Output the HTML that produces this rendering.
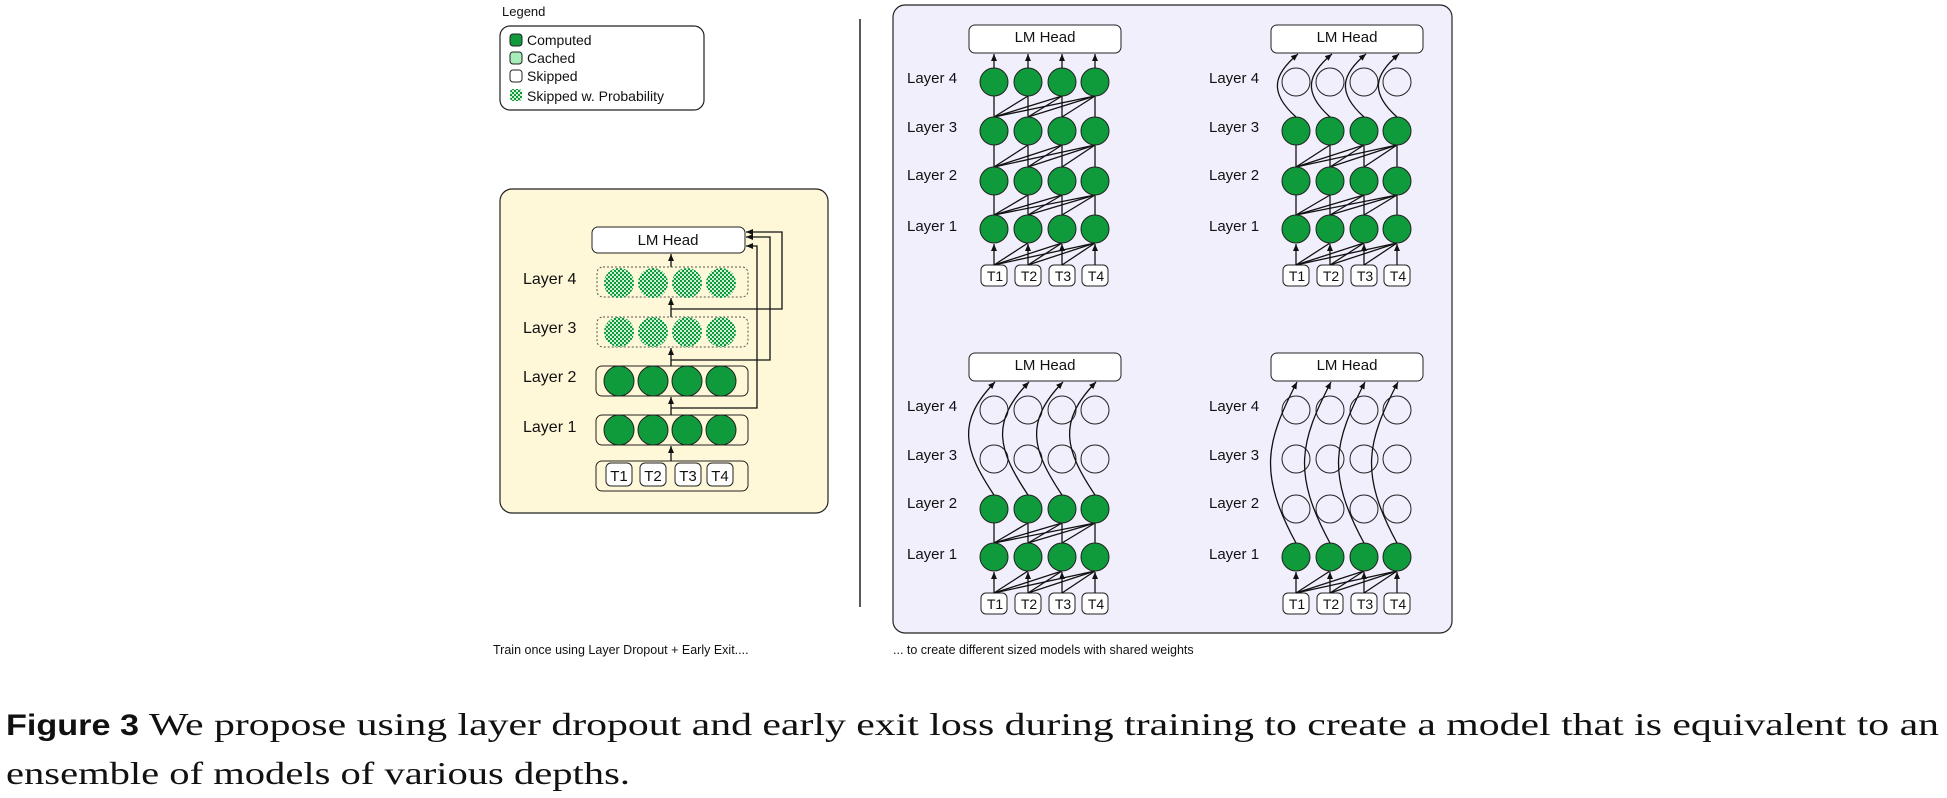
<!DOCTYPE html>
<html><head><meta charset="utf-8">
<style>
html,body{margin:0;padding:0;background:#fff;}
svg{display:block;}
text{font-family:"Liberation Sans",Arial,sans-serif;fill:#111;}
</style></head>
<body>
<svg id="s" width="1947" height="798" viewBox="0 0 1947 798" xmlns="http://www.w3.org/2000/svg">
<defs>
<pattern id="hatch" width="4" height="4" patternUnits="userSpaceOnUse">
<rect width="4" height="4" fill="#cfeed6"/>
<rect width="2" height="2" fill="#0f9a3b"/>
<rect x="2" y="2" width="2" height="2" fill="#0f9a3b"/>
</pattern>
<marker id="ah" markerWidth="8" markerHeight="8" refX="7" refY="4" orient="auto" markerUnits="userSpaceOnUse">
<path d="M0,1 L7,4 L0,7 Z" fill="#111"/>
</marker>
</defs>

<!-- Legend -->
<text x="502" y="16" font-size="13">Legend</text>
<rect x="500" y="26" width="204" height="84" rx="10" fill="#fff" stroke="#222" stroke-width="1.2"/>
<rect x="510" y="34" width="12" height="12" rx="3" fill="#0f9a3b" stroke="#222"/>
<rect x="510" y="52" width="12" height="12" rx="3" fill="#a8ecb8" stroke="#222"/>
<rect x="510" y="70" width="12" height="12" rx="3" fill="#fff" stroke="#222"/>
<rect x="510" y="89" width="12" height="12" rx="3" fill="url(#hatch)"/>
<text x="527" y="45" font-size="14">Computed</text>
<text x="527" y="63" font-size="14">Cached</text>
<text x="527" y="81" font-size="14">Skipped</text>
<text x="527" y="101" font-size="14">Skipped w. Probability</text>

<!-- divider -->
<line x1="860" y1="19" x2="860" y2="607" stroke="#222" stroke-width="1.5"/>

<!-- Left panel -->
<rect x="500" y="189" width="328" height="324" rx="12" fill="#fff8d8" stroke="#222" stroke-width="1.2"/>
<rect x="592" y="227" width="153" height="26" rx="6" fill="#fff" stroke="#222"/>
<text x="668" y="245" font-size="15" text-anchor="middle">LM Head</text>
<rect x="597" y="267" width="151" height="30" rx="6" fill="#fff8d8" stroke="#555" stroke-dasharray="2,2"/>
<rect x="597" y="317" width="151" height="30" rx="6" fill="#fff8d8" stroke="#555" stroke-dasharray="2,2"/>
<rect x="596" y="366" width="152" height="30" rx="6" fill="#fff8d8" stroke="#222"/>
<rect x="596" y="415" width="152" height="30" rx="6" fill="#fff8d8" stroke="#222"/>
<rect x="596" y="461" width="152" height="30" rx="6" fill="#fff8d8" stroke="#222"/>
<text x="523" y="284" font-size="16">Layer 4</text>
<text x="523" y="333" font-size="16">Layer 3</text>
<text x="523" y="382" font-size="16">Layer 2</text>
<text x="523" y="432" font-size="16">Layer 1</text>
<g id="lp"></g>
<text x="619" y="481" font-size="15" text-anchor="middle">T1</text>
<text x="653" y="481" font-size="15" text-anchor="middle">T2</text>
<text x="688" y="481" font-size="15" text-anchor="middle">T3</text>
<text x="720" y="481" font-size="15" text-anchor="middle">T4</text>

<!-- Right panel -->
<rect x="893" y="5" width="559" height="628" rx="12" fill="#f2effd" stroke="#222" stroke-width="1.2"/>
<g id="rp"></g>

<g font-size="15">
<text x="1045" y="42" text-anchor="middle">LM Head</text>
<text x="1347" y="42" text-anchor="middle">LM Head</text>
<text x="1045" y="370" text-anchor="middle">LM Head</text>
<text x="1347" y="370" text-anchor="middle">LM Head</text>
</g>
<g font-size="15">
<text x="907" y="83">Layer 4</text><text x="907" y="132">Layer 3</text><text x="907" y="180">Layer 2</text><text x="907" y="231">Layer 1</text>
<text x="1209" y="83">Layer 4</text><text x="1209" y="132">Layer 3</text><text x="1209" y="180">Layer 2</text><text x="1209" y="231">Layer 1</text>
<text x="907" y="411">Layer 4</text><text x="907" y="460">Layer 3</text><text x="907" y="508">Layer 2</text><text x="907" y="559">Layer 1</text>
<text x="1209" y="411">Layer 4</text><text x="1209" y="460">Layer 3</text><text x="1209" y="508">Layer 2</text><text x="1209" y="559">Layer 1</text>
</g>
<g font-size="14" text-anchor="middle">
<text x="995" y="281">T1</text><text x="1029" y="281">T2</text><text x="1063" y="281">T3</text><text x="1096" y="281">T4</text>
<text x="1297" y="281">T1</text><text x="1331" y="281">T2</text><text x="1365" y="281">T3</text><text x="1398" y="281">T4</text>
<text x="995" y="609">T1</text><text x="1029" y="609">T2</text><text x="1063" y="609">T3</text><text x="1096" y="609">T4</text>
<text x="1297" y="609">T1</text><text x="1331" y="609">T2</text><text x="1365" y="609">T3</text><text x="1398" y="609">T4</text>
</g>

<text x="493" y="654" font-size="12.5">Train once using Layer Dropout + Early Exit....</text>
<text x="893" y="654" font-size="12.5">... to create different sized models with shared weights</text>

<text x="6" y="735" font-size="30" font-weight="bold" textLength="133" lengthAdjust="spacingAndGlyphs">Figure 3</text>
<text x="149" y="735" font-size="32" textLength="1790" lengthAdjust="spacingAndGlyphs" style="font-family:'Liberation Serif',serif">We propose using layer dropout and early exit loss during training to create a model that is equivalent to an</text>
<text x="6" y="784" font-size="32" textLength="624" lengthAdjust="spacingAndGlyphs" style="font-family:'Liberation Serif',serif">ensemble of models of various depths.</text>
</svg>
<script>
var NS="http://www.w3.org/2000/svg";
function el(p,t,a){var e=document.createElementNS(NS,t);for(var k in a)e.setAttribute(k,a[k]);p.appendChild(e);return e;}
var lp=document.getElementById('lp');
var lx=[619,653,687,721];
[[283,'url(#hatch)','none'],[332,'url(#hatch)','none'],[381,'#0f9a3b','#222'],[430,'#0f9a3b','#222']].forEach(function(r){
 lx.forEach(function(x){el(lp,'circle',{cx:x,cy:r[0],r:15,fill:r[1],stroke:r[2]});});
});
[[606,632],[640,666],[675,701],[707,733]].forEach(function(t){el(lp,'rect',{x:t[0],y:463,width:t[1]-t[0],height:23,rx:5,fill:'#fff',stroke:'#222'});});
function ln(p,x1,y1,x2,y2,arrow){var a={x1:x1,y1:y1,x2:x2,y2:y2,stroke:'#111','stroke-width':1.3};if(arrow)a['marker-end']='url(#ah)';el(p,'line',a);}
ln(lp,671,461,671,446,1);ln(lp,671,415,671,397,1);ln(lp,671,366,671,348,1);ln(lp,671,317,671,298,1);ln(lp,671,267,671,254,1);
el(lp,'path',{d:'M671,408 H757 V246 H746',stroke:'#111','stroke-width':1.3,fill:'none','marker-end':'url(#ah)'});
el(lp,'path',{d:'M671,360 H770 V237 H746',stroke:'#111','stroke-width':1.3,fill:'none','marker-end':'url(#ah)'});
el(lp,'path',{d:'M671,309 H782 V232 H746',stroke:'#111','stroke-width':1.3,fill:'none','marker-end':'url(#ah)'});

var rp=document.getElementById('rp');
var cx=[994,1028,1062,1095], ry={4:82,3:131,2:181,1:229}, R=14;
function sub(dx,dy,nComp){
 var g=el(rp,'g',{});
 el(g,'rect',{x:969+dx,y:25+dy,width:152,height:28,rx:6,fill:'#fff',stroke:'#222'});
 for(var i=0;i<4;i++){var x=cx[i]+dx;el(g,'rect',{x:x-13,y:265+dy,width:26,height:21,rx:5,fill:'#fff',stroke:'#222'});}
 for(var j=0;j<4;j++){for(var i=0;i<j;i++){ln(g,cx[i]+dx,265+dy,cx[j]+dx,ry[1]+R+dy);} ln(g,cx[j]+dx,265+dy,cx[j]+dx,ry[1]+R+dy+1,1);}
 for(var l=1;l<nComp;l++){
  for(var j=0;j<4;j++){for(var i=0;i<j;i++)ln(g,cx[i]+dx,ry[l]-R+dy,cx[j]+dx,ry[l+1]+R+dy);ln(g,cx[j]+dx,ry[l]-R+dy,cx[j]+dx,ry[l+1]+R+dy);}
 }
 for(var l=1;l<=4;l++){
  for(var i=0;i<4;i++){var c=l<=nComp;el(g,'circle',{cx:cx[i]+dx,cy:ry[l]+dy,r:R,fill:c?'#0f9a3b':'none',stroke:'#222','stroke-width':1});}
 }
 for(var i=0;i<4;i++){
  var x=cx[i]+dx, y0=ry[nComp]-R+dy, yh=54+dy;
  if(nComp==4){ln(g,x,y0,x,yh,1);}
  else if(nComp==3){el(g,'path',{d:'M'+x+','+y0+' C'+(x-28)+','+(y0-25)+' '+(x-22)+','+(yh+20)+' '+(x+2)+','+yh,stroke:'#111','stroke-width':1.3,fill:'none','marker-end':'url(#ah)'});}
  else if(nComp==2){el(g,'path',{d:'M'+x+','+y0+' C'+(x-30)+','+(y0-45)+' '+(x-38)+','+(yh+40)+' '+(x+1)+','+yh,stroke:'#111','stroke-width':1.3,fill:'none','marker-end':'url(#ah)'});}
  else {el(g,'path',{d:'M'+x+','+y0+' C'+(x-38)+','+(y0-70)+' '+(x-30)+','+(yh+60)+' '+(x+1)+','+yh,stroke:'#111','stroke-width':1.3,fill:'none','marker-end':'url(#ah)'});}
 }
}
sub(0,0,4);sub(302,0,3);sub(0,328,2);sub(302,328,1);
</script>
</body></html>
